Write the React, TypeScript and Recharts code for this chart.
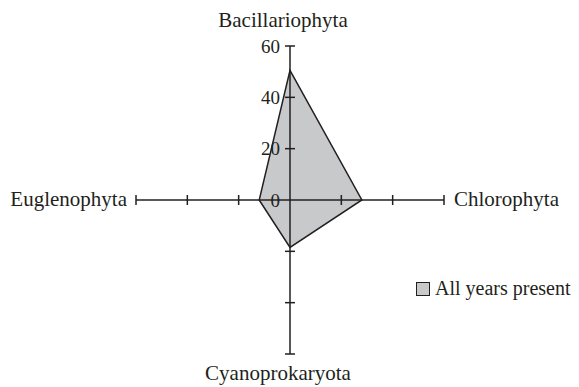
import React from 'react';
import { RadarChart, Radar, PolarAngleAxis, PolarRadiusAxis, Legend } from 'recharts';

// phylum groups, clockwise from the top
const categories = ['Bacillariophyta', 'Chlorophyta', 'Cyanoprokaryota', 'Euglenophyta'];
const allYearsPresent = [50.5, 28, 18.5, 12];
const radiusTicks = [0, 20, 40, 60];

const data = categories.map((group, i) => ({ group, value: allYearsPresent[i] }));

const INK = '#231f20';
const FILL = '#c8c9cb';
const FONT = '"Liberation Serif", "DejaVu Serif", serif';

// tick marks across each spoke; labels only on the vertical one
const makeTick = (angle: number, showLabels: boolean) => (props: any) => {
  const { x, y, payload } = props;
  const v = payload.value;
  const vertical = angle === 90 || angle === 270;
  return (
    <g>
      {v !== 0 &&
        (vertical ? (
          <line x1={x - 5} y1={y} x2={x + 5} y2={y} stroke={INK} strokeWidth={1.5} />
        ) : (
          <line x1={x} y1={y - 5} x2={x} y2={y + 5} stroke={INK} strokeWidth={1.5} />
        ))}
      {showLabels && (
        <text
          x={x - 10}
          y={y}
          textAnchor="end"
          dominantBaseline="central"
          fontFamily={FONT}
          fontSize={19}
          fill={INK}
        >
          {v}
        </text>
      )}
    </g>
  );
};

const AngleTick = (props: any) => {
  const { x, y, payload } = props;
  const name = payload.value;
  let anchor = 'middle';
  let dx = 0;
  let dy = 0;
  if (name === 'Bacillariophyta') { dx = -7; dy = -11; }
  if (name === 'Chlorophyta') { anchor = 'start'; dx = 2; dy = 6; }
  if (name === 'Cyanoprokaryota') { dx = -12; dy = 18; }
  if (name === 'Euglenophyta') { anchor = 'end'; dx = -1; dy = 6; }
  return (
    <text x={x + dx} y={y + dy} textAnchor={anchor} fontFamily={FONT} fontSize={21} fill={INK}>
      {name}
    </text>
  );
};

const LegendContent = () => (
  <div style={{ display: 'flex', alignItems: 'center', fontFamily: FONT, fontSize: 20, color: INK, whiteSpace: 'nowrap' }}>
    <span
      style={{
        display: 'inline-block',
        width: 12,
        height: 12,
        background: FILL,
        border: `1px solid ${INK}`,
        marginRight: 5,
      }}
    />
    All years present
  </div>
);

const spokes = [
  { id: 'up', angle: 90, labels: true },
  { id: 'right', angle: 0, labels: false },
  { id: 'down', angle: 270, labels: false },
  { id: 'left', angle: 180, labels: false },
];

export default function App() {
  return (
    <div style={{ position: 'absolute', left: 0, top: 0, background: '#fff' }}>
      <RadarChart
        width={579}
        height={387}
        data={data}
        cx={290}
        cy={200}
        outerRadius={154}
        margin={{ top: 0, right: 0, bottom: 0, left: 0 }}
      >
        <PolarAngleAxis dataKey="group" axisLine={false} tickLine={false} tick={AngleTick} />
        {spokes.map((s) => (
          <PolarRadiusAxis
            key={s.id}
            radiusAxisId={s.id}
            angle={s.angle}
            type="number"
            domain={[0, 60]}
            allowDataOverflow
            tickCount={4}
            ticks={radiusTicks}
            axisLine={{ stroke: INK, strokeWidth: 1.5 }}
            tick={makeTick(s.angle, s.labels)}
          />
        ))}
        <Radar
          name="All years present"
          dataKey="value"
          radiusAxisId="up"
          stroke={INK}
          strokeWidth={1.5}
          fill={FILL}
          fillOpacity={1}
          isAnimationActive={false}
        />
        <Legend
          layout="vertical"
          content={LegendContent}
          wrapperStyle={{ left: 416, top: 277, width: 170 }}
        />
      </RadarChart>
    </div>
  );
}
